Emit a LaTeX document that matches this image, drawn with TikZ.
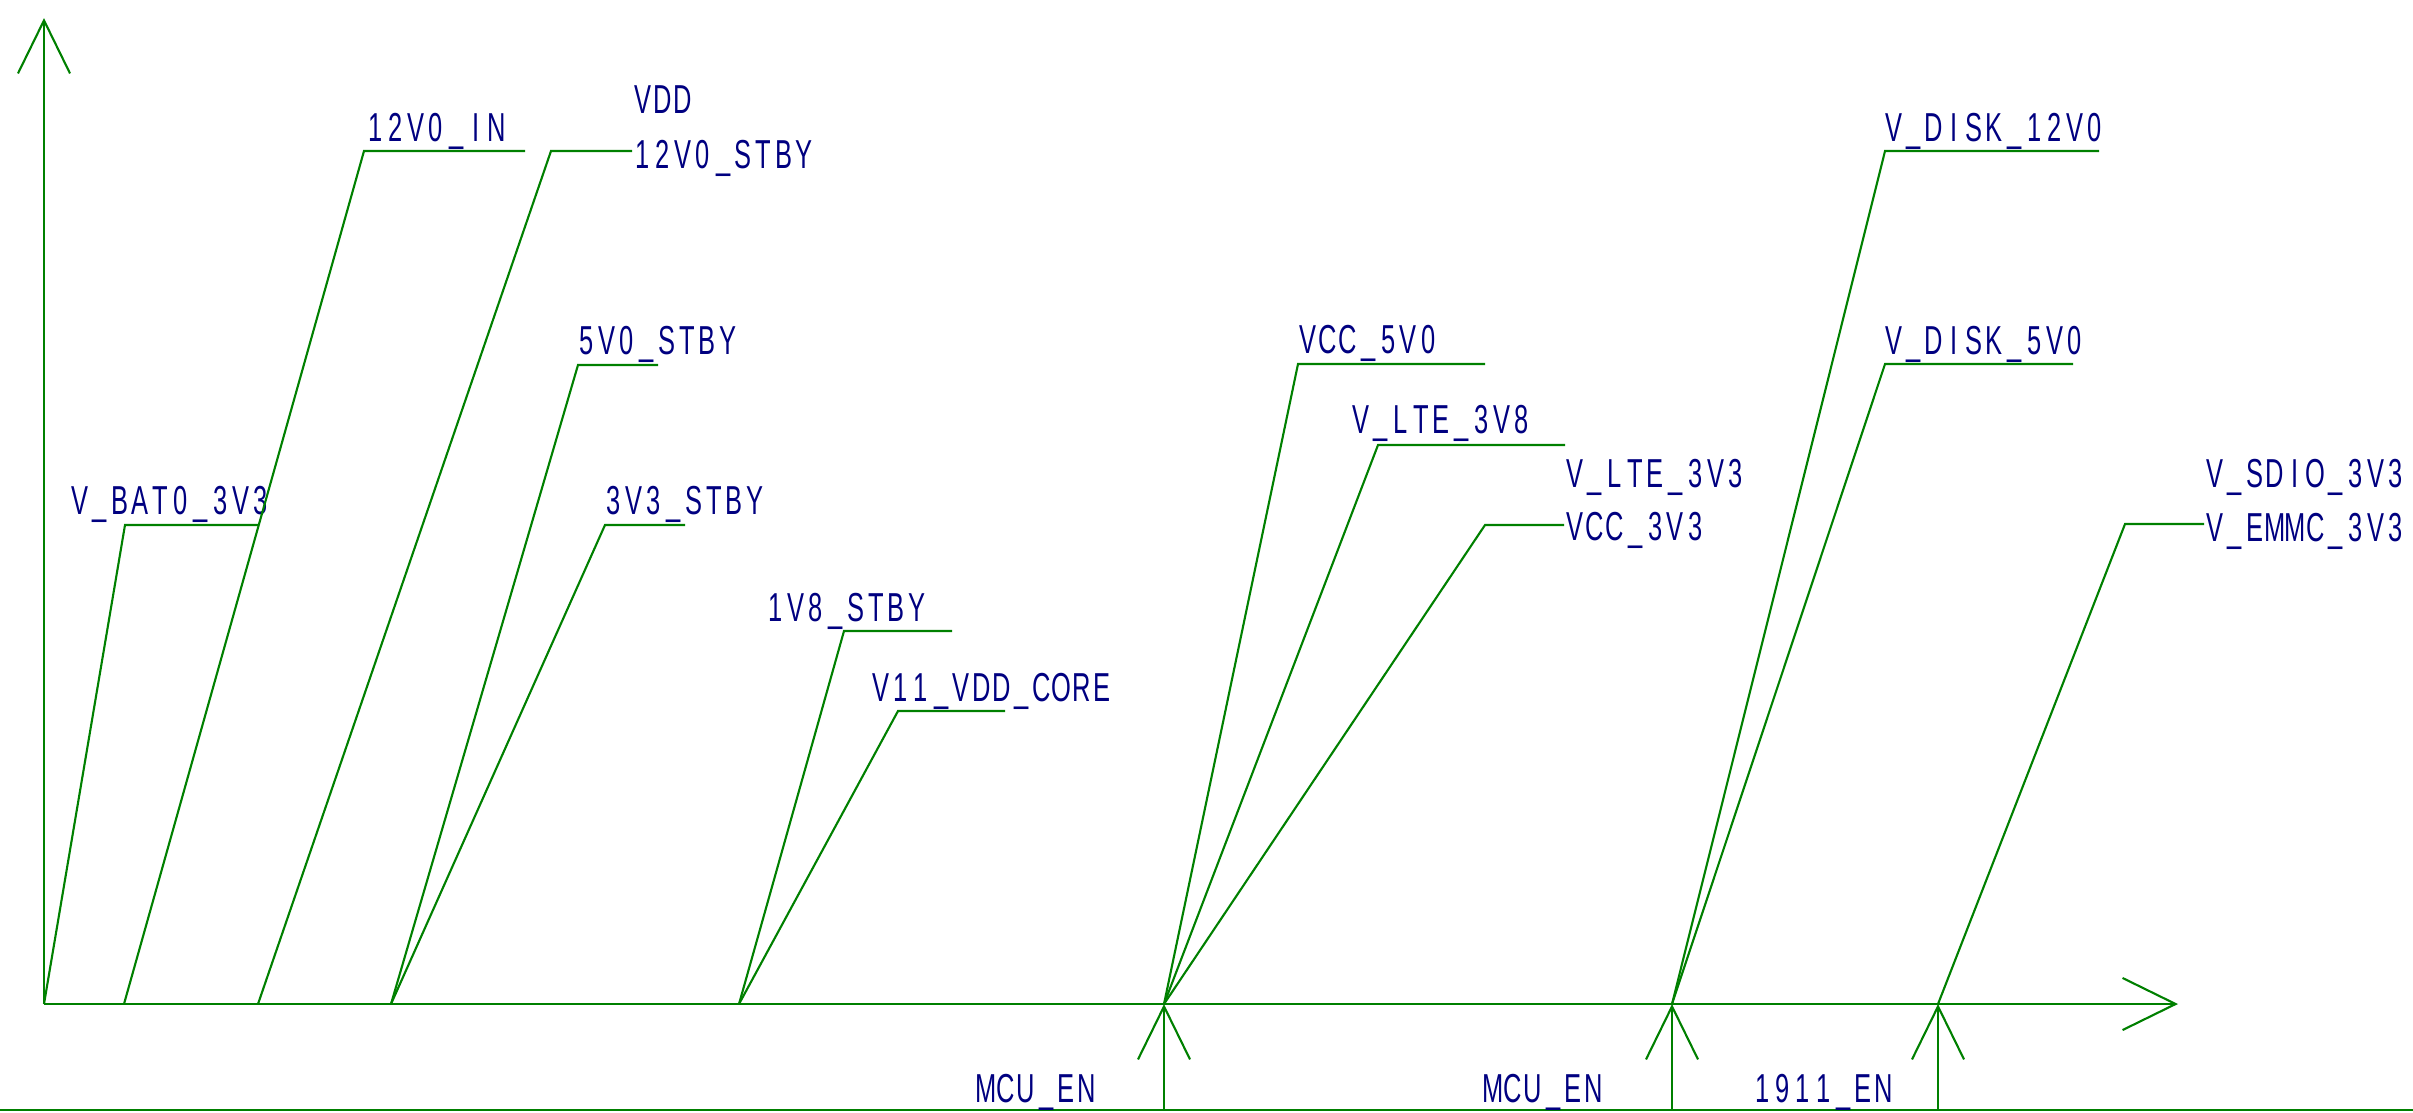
\documentclass[tikz,border=0pt]{standalone}
\usepackage{fontspec}
\usepackage{tikz}
\usetikzlibrary{arrows.meta}
\newfontfamily\netfont[FakeStretch=0.63]{Liberation Sans}
\definecolor{wiregreen}{RGB}{0,128,0}
\definecolor{netblue}{RGB}{0,0,128}
% net names are set on a fixed pitch, one box per character
\newlength\netpitch
\setlength\netpitch{0.201cm}
\def\netscan#1{\ifx#1\relax\else\makebox[\netpitch]{#1}\expandafter\netscan\fi}
\newcommand\netname[1]{\netscan#1\relax}
\begin{document}
\begin{tikzpicture}[x=0.01cm, y=-0.01cm,
      wire/.style={draw=wiregreen, line width=0.6pt},
      arr/.style={wire, -{Straight Barb[length=0.53cm, width=0.52cm]}},
      lbl/.style={font=\netfont\fontsize{11.5}{12}\selectfont, text=netblue, inner sep=0pt, anchor=base west}]
      \useasboundingbox (0,0) rectangle (2413,1112);
      % axes and ground line
      \coordinate (o) at (44,1004); \coordinate (ytip) at (44,18); \coordinate (xtip) at (2178,1004);
      \coordinate (gl) at (0,1110); \coordinate (gr) at (2413,1110);
      \draw[arr](o)--(ytip); \draw[arr](o)--(xtip); \draw[wire](gl)--(gr);
      % ramp start points on the time axis
      \coordinate (t1) at (124,1004); \coordinate (t2) at (258,1004); \coordinate (t3) at (391,1004);
      \coordinate (t4) at (739,1004); \coordinate (t5) at (1164,1004); \coordinate (t6) at (1672,1004);
      \coordinate (t7) at (1938,1004);
      % standby rails
      \coordinate (c1) at (125,525); \coordinate (e1) at (258,525);
      \node[lbl] (bat) at (69,514) {\netname{V\_BAT0\_3V3}};
      \coordinate (c2) at (364,151); \coordinate (e2) at (525,151);
      \node[lbl] (in12) at (365,141) {\netname{12V0\_IN}};
      \coordinate (c3) at (551,151);
      \node[lbl] (stby12) at (632,168) {\netname{12V0\_STBY}};
      \node[lbl] (vdd) at (632,113) {\netname{VDD}};
      \coordinate (c4) at (578,365); \coordinate (e4) at (658,365);
      \node[lbl] (stby5) at (576,354) {\netname{5V0\_STBY}};
      \coordinate (c5) at (605,525); \coordinate (e5) at (685,525);
      \node[lbl] (stby3) at (603,514) {\netname{3V3\_STBY}};
      \coordinate (c6) at (844,631); \coordinate (e6) at (952,631);
      \node[lbl] (stby18) at (765,621) {\netname{1V8\_STBY}};
      \coordinate (c7) at (898,711); \coordinate (e7) at (1005,711);
      \node[lbl] (core) at (870,701) {\netname{V11\_VDD\_CORE}};
      \draw[wire](o)--(c1)--(e1); \draw[wire](t1)--(c2)--(e2);
      \draw[wire](t2)--(c3)--(stby12.west |- c3);
      \draw[wire](t3)--(c4)--(e4); \draw[wire](t3)--(c5)--(e5);
      \draw[wire](t4)--(c6)--(e6); \draw[wire](t4)--(c7)--(e7);
      % rails after MCU_EN
      \coordinate (c8) at (1298,364); \coordinate (e8) at (1485,364);
      \node[lbl] (vcc5) at (1297,353) {\netname{VCC\_5V0}};
      \coordinate (c9) at (1378,445); \coordinate (e9) at (1565,445);
      \node[lbl] (lte38) at (1350,433) {\netname{V\_LTE\_3V8}};
      \coordinate (c10) at (1485,525);
      \node[lbl] (vcc3) at (1564,540) {\netname{VCC\_3V3}};
      \node[lbl] (lte33) at (1564,487) {\netname{V\_LTE\_3V3}};
      \coordinate (c11) at (1885,151); \coordinate (e11) at (2099,151);
      \node[lbl] (disk12) at (1883,141) {\netname{V\_DISK\_12V0}};
      \coordinate (c12) at (1885,364); \coordinate (e12) at (2073,364);
      \node[lbl] (disk5) at (1883,354) {\netname{V\_DISK\_5V0}};
      \coordinate (c13) at (2125,524);
      \node[lbl] (emmc) at (2204,541) {\netname{V\_EMMC\_3V3}};
      \node[lbl] (sdio) at (2204,487) {\netname{V\_SDIO\_3V3}};
      \draw[wire](t5)--(c8)--(e8); \draw[wire](t5)--(c9)--(e9);
      \draw[wire](t5)--(c10)--(vcc3.west |- c10);
      \draw[wire](t6)--(c11)--(e11); \draw[wire](t6)--(c12)--(e12);
      \draw[wire](t7)--(c13)--(emmc.west |- c13);
      % enable signals
      \coordinate (g5) at (1164,1110); \coordinate (g6) at (1672,1110); \coordinate (g7) at (1938,1110);
      \draw[arr](g5)--(t5); \draw[arr](g6)--(t6); \draw[arr](g7)--(t7);
      \node[lbl] (en1) at (975,1102) {\netname{MCU\_EN}};
      \node[lbl] (en2) at (1482,1102) {\netname{MCU\_EN}};
      \node[lbl] (en3) at (1752,1102) {\netname{1911\_EN}};
    \end{tikzpicture}
\end{document}
